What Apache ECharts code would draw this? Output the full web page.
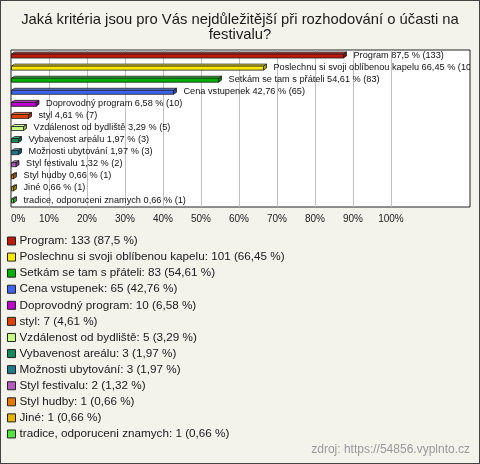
<!DOCTYPE html>
<html>
<head>
<meta charset="utf-8">
<script src="https://cdn.jsdelivr.net/npm/echarts@6/dist/echarts.min.js"></script>
<style>
  html, body { margin: 0; padding: 0; background: #F3F2EB; }
  #frame { position: absolute; left: 0; top: 0; width: 480px; height: 464px; box-sizing: border-box; border: 1px solid #444; background: #F3F2EB; }
  #chart { position: absolute; left: 0; top: 0; width: 480px; height: 464px; }
</style>
</head>
<body>
<div id="frame"></div>
<div id="chart"></div>
<script>
const titleText = 'Jaká kritéria jsou pro Vás nejdůležitější při rozhodování o účasti na\nfestivalu?';
const sourceText = 'zdroj: https://54856.vyplnto.cz';
const categories = ['Program', 'Poslechnu si svoji oblíbenou kapelu', 'Setkám se tam s přáteli', 'Cena vstupenek',
  'Doprovodný program', 'styl', 'Vzdálenost od bydliště', 'Vybavenost areálu', 'Možnosti ubytování',
  'Styl festivalu', 'Styl hudby', 'Jiné', 'tradice, odporuceni znamych'];
const percents = [87.5, 66.45, 54.61, 42.76, 6.58, 4.61, 3.29, 1.97, 1.97, 1.32, 0.66, 0.66, 0.66];
const counts = [133, 101, 83, 65, 10, 7, 5, 3, 3, 2, 1, 1, 1];
const colors = ['#C0180A', '#FFE800', '#00B400', '#3C64F0', '#C000D0', '#E04000', '#C8FF80',
  '#108C5A', '#1E7890', '#B45AC0', '#E67800', '#E6B400', '#50E63C'];
const xTicks = [10, 20, 30, 40, 50, 60, 70, 80, 90, 100];

const fmt = v => String(v).replace('.', ',');

function shade(hex, f) {
  const n = parseInt(hex.slice(1), 16);
  let r = (n >> 16) & 255, g = (n >> 8) & 255, b = n & 255;
  if (f > 0) { r += (255 - r) * f; g += (255 - g) * f; b += (255 - b) * f; }
  else { r *= (1 + f); g *= (1 + f); b *= (1 + f); }
  return 'rgb(' + Math.round(r) + ',' + Math.round(g) + ',' + Math.round(b) + ')';
}

function makeRender(idx) {
  return function (params, api) {
    const v = api.value(0), c = api.value(1);
    const p0 = api.coord([0, c]);
    const p1 = api.coord([v, c]);
    const cy = p0[1];
    const x0 = p0[0] + 0.5, x1 = p1[0];
    const yt = cy - 2, yb = cy + 2;
    const dx = 3, dy = 2;
    const col = colors[idx];
    const stroke = '#1a1a1a';
    return {
      type: 'group',
      children: [
        { type: 'polygon', shape: { points: [[x0, yt], [x0 + dx, yt - dy], [x1 + dx, yt - dy], [x1, yt]] },
          style: { fill: shade(col, 0.25), stroke: stroke, lineWidth: 0.8 } },
        { type: 'polygon', shape: { points: [[x1, yt], [x1 + dx, yt - dy], [x1 + dx, yb - dy], [x1, yb]] },
          style: { fill: shade(col, -0.3), stroke: stroke, lineWidth: 0.8 } },
        { type: 'rect', shape: { x: x0, y: yt, width: Math.max(x1 - x0, 0.5), height: yb - yt },
          style: { fill: col, stroke: stroke, lineWidth: 0.8 } },
        { type: 'text', x: x1 + 10, y: cy - 1,
          style: { text: categories[idx] + ' ' + fmt(percents[idx]) + ' % (' + counts[idx] + ')',
            fill: '#111', font: '9.2px "Liberation Sans", Arial, sans-serif', verticalAlign: 'middle', align: 'left' } }
      ]
    };
  };
}

const series = categories.map((name, i) => ({
  type: 'custom',
  name: name + ': ' + counts[i] + ' (' + fmt(percents[i]) + ' %)',
  color: colors[i],
  itemStyle: { color: colors[i] },
  clip: true,
  z: 5,
  encode: { x: 0, y: 1 },
  data: [[percents[i], i]],
  renderItem: makeRender(i)
}));

series.push({
  type: 'custom',
  name: '__grid',
  data: [],
  renderItem: () => null,
  z: 1,
  markLine: {
    silent: true,
    z: 1,
    symbol: 'none',
    label: { show: false },
    lineStyle: { color: '#c0c0c0', type: 'solid', width: 1 },
    data: xTicks.map(t => ({ xAxis: t }))
  }
});

const chart = echarts.init(document.getElementById('chart'), null, { renderer: 'canvas' });
chart.setOption({
  backgroundColor: 'transparent',
  animation: false,
  textStyle: { fontFamily: '"Liberation Sans", Arial, sans-serif' },
  title: [
    { text: titleText, left: 'center', top: 13, padding: 0,
      textStyle: { fontSize: 14.8, fontWeight: 'normal', color: '#1a1a1a', lineHeight: 14.5 } },
    { text: sourceText, right: 10, top: 444, padding: 0,
      textStyle: { fontSize: 12, fontWeight: 'normal', color: '#999' } }
  ],
  grid: { left: 11, top: 50, width: 459, height: 157, show: true, backgroundColor: '#fff', borderColor: '#222', borderWidth: 1 },
  xAxis: {
    type: 'value', min: 0, max: 120.8, interval: 10,
    axisLine: { show: false }, axisTick: { show: false }, splitLine: { show: false },
    axisLabel: { fontSize: 10, color: '#222', margin: 7, alignMinLabel: 'left',
      formatter: v => (v <= 100 ? v + '%' : '') }
  },
  yAxis: { type: 'category', data: categories, inverse: true, show: false },
  legend: {
    orient: 'vertical', left: 7, top: 235, padding: 0,
    itemWidth: 8, itemHeight: 8, itemGap: 4.08, icon: 'rect',
    selectedMode: false,
    data: series.filter(s => s.name !== '__grid').map(s => s.name),
    itemStyle: { borderColor: '#222', borderWidth: 1 },
    textStyle: { fontSize: 11.7, color: '#1a1a1a', lineHeight: 12, padding: [0, 0, 0, -1] }
  },
  series: series
});
</script>
</body>
</html>
